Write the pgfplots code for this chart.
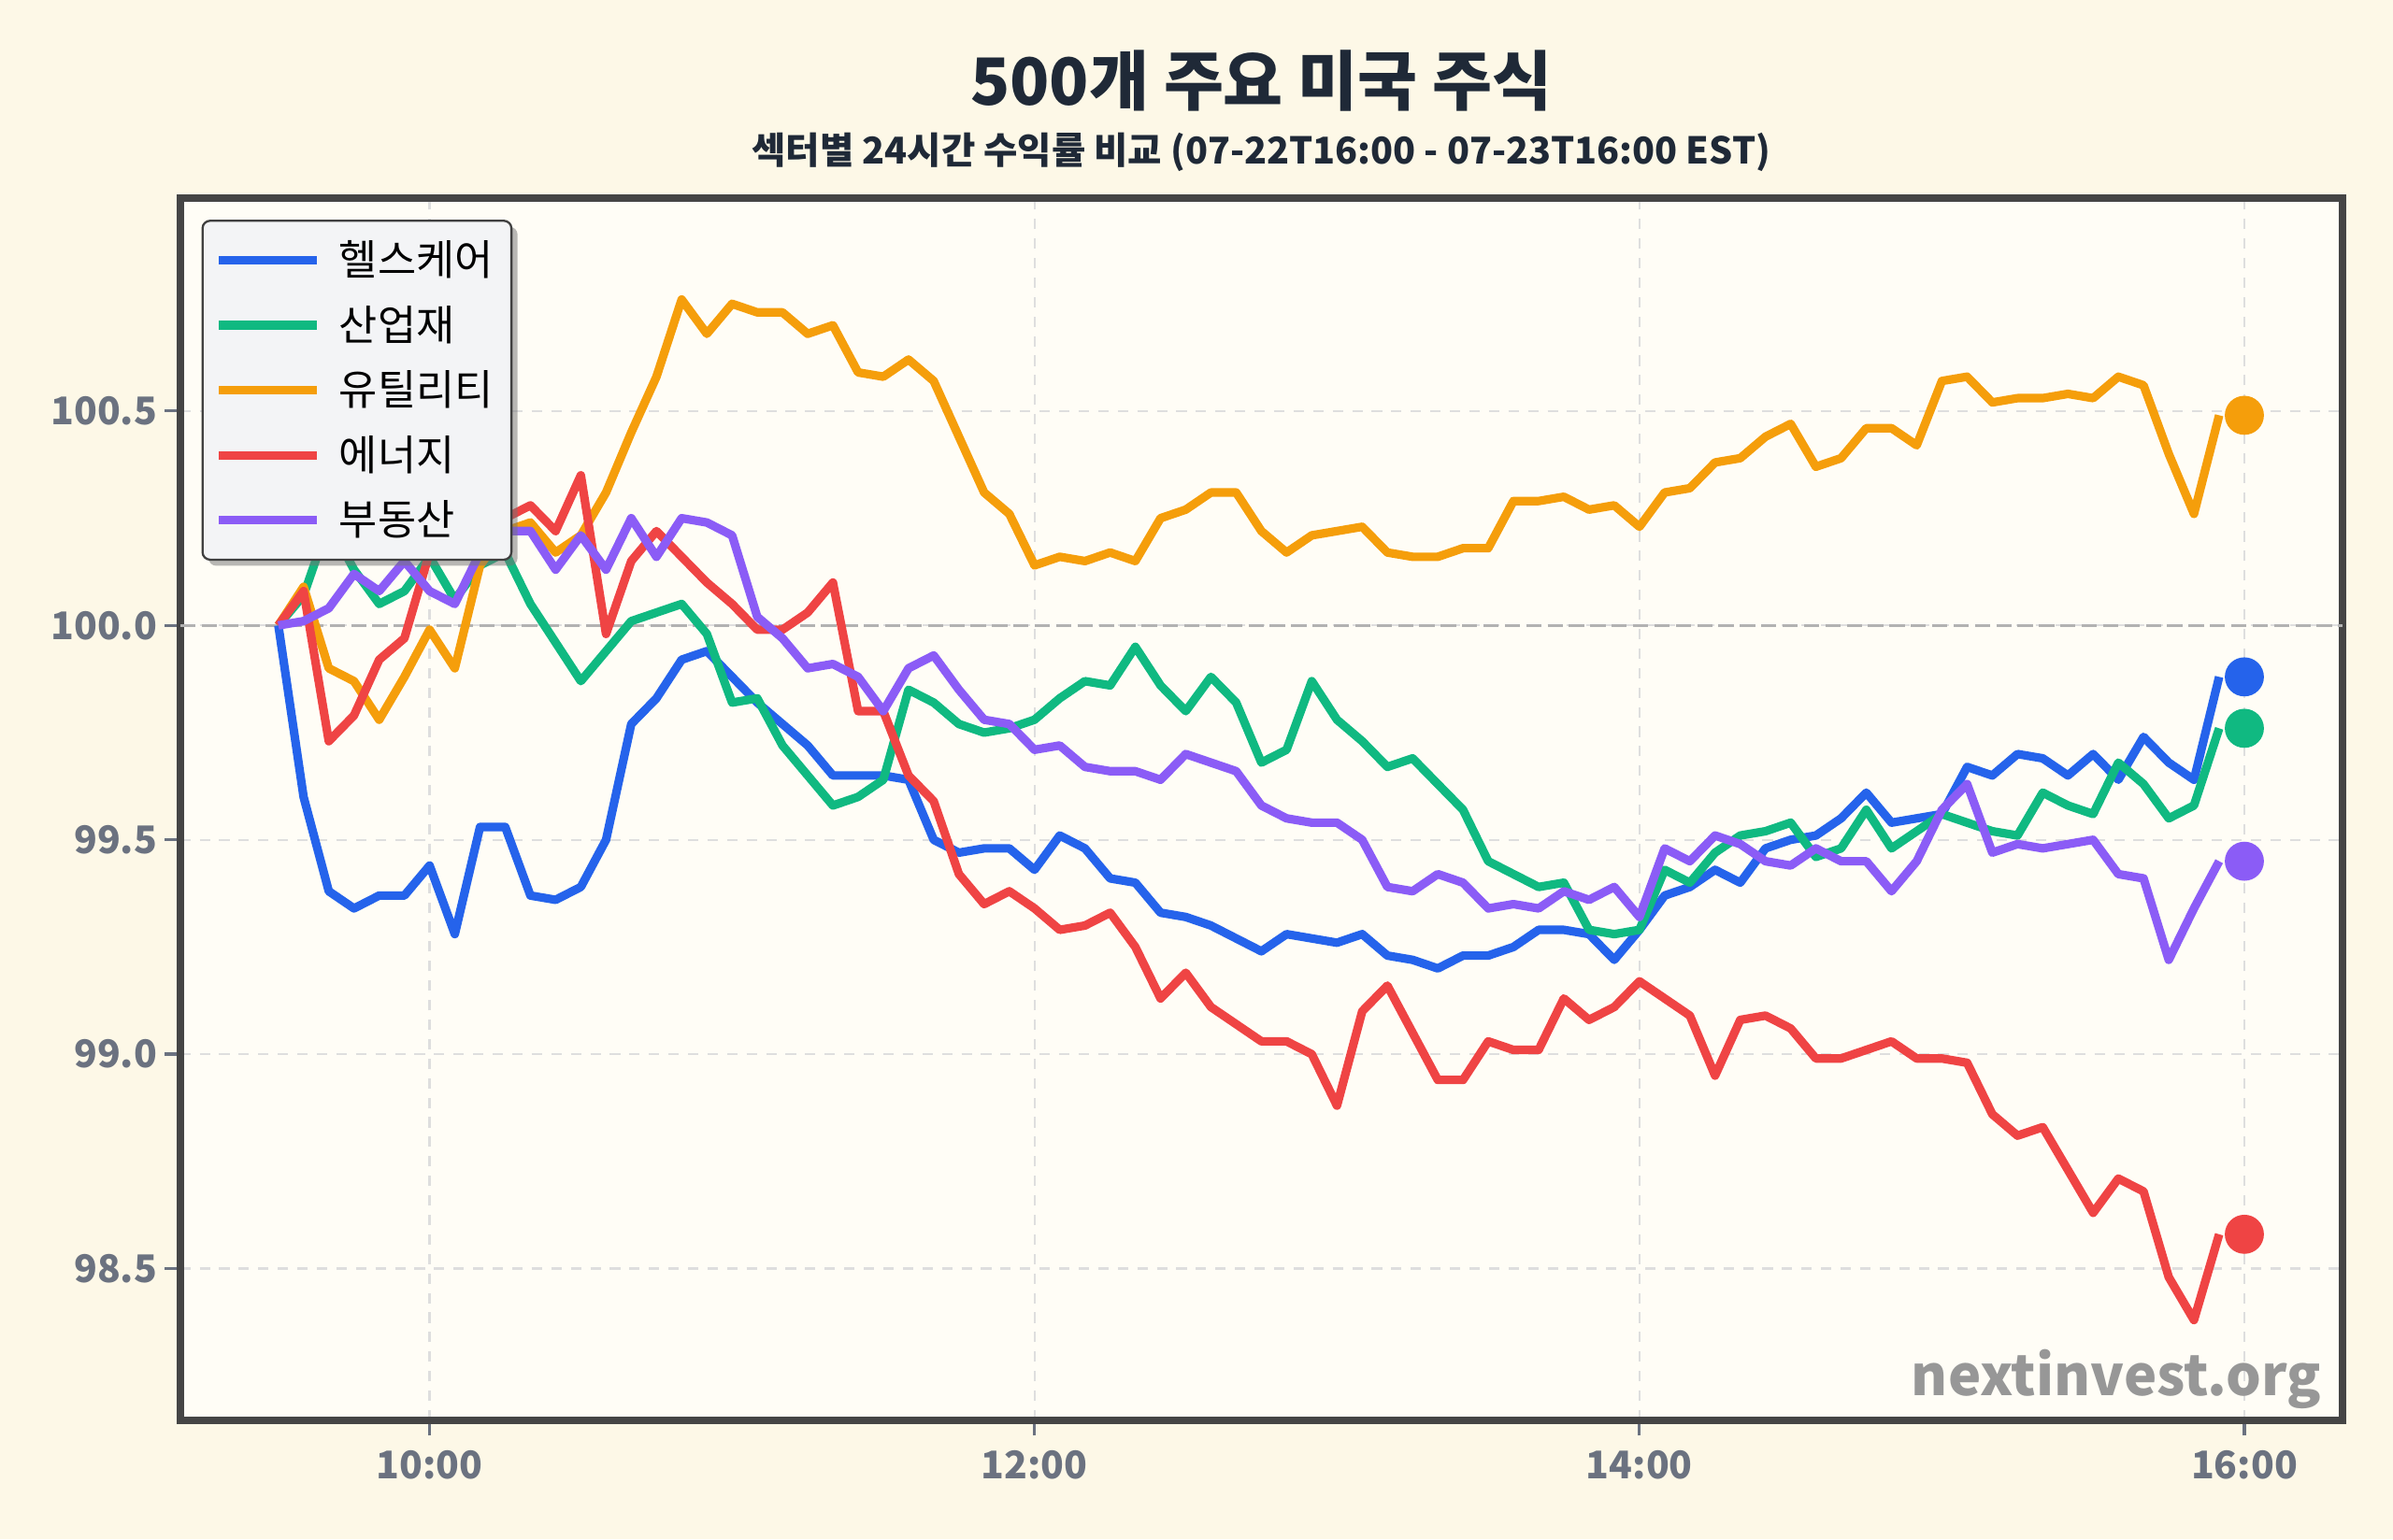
\documentclass[border=0pt]{standalone}
\usepackage{fontspec}
\setmainfont{Noto Sans CJK KR}
\usepackage{pgfplots}
\pgfplotsset{compat=1.18}
\usepackage{pgfplotstable}
\usetikzlibrary{shadows}

\makeatletter
% legend samples should not inherit the box's shadow
\tikzset{no preactions/.code={\let\tikz@preactions\pgfutil@empty}}
\makeatother

\definecolor{pagebg}{HTML}{FDF8E7}
\definecolor{axbg}{HTML}{FFFDF6}
\definecolor{framec}{HTML}{454545}
\definecolor{tickgray}{HTML}{6B7280}
\definecolor{titlec}{HTML}{1F2937}
\definecolor{legbg}{HTML}{F3F4F6}
\definecolor{markc}{HTML}{979797}
\definecolor{cblue}{HTML}{2563EB}
\definecolor{cgreen}{HTML}{10B981}
\definecolor{corange}{HTML}{F59E0B}
\definecolor{cred}{HTML}{EF4444}
\definecolor{cpurple}{HTML}{8B5CF6}

% t = minutes after midnight; values are indexed to 100 at 09:30
\pgfplotstableread{
t   hc     ind     util    en      re
570 100.00 100.00  100.00  100.00  100.00
575 99.60  100.07  100.09  100.08  100.01
580 99.38  100.24  99.90   99.73   100.04
585 99.34  100.13  99.87   99.79   100.12
590 99.37  100.05  99.78   99.92   100.08
595 99.37  100.08  99.88   99.97   100.15
600 99.44  100.16  99.99   100.17  100.08
605 99.28  100.06  99.90   100.21  100.05
610 99.53  100.14  100.14  100.23  100.17
615 99.53  100.17  100.22  100.25  100.22
620 99.37  100.05  100.24  100.28  100.22
625 99.36  99.96   100.17  100.22  100.13
630 99.39  99.87   100.21  100.35  100.21
635 99.50  99.94   100.31  99.98   100.13
640 99.77  100.01  100.45  100.15  100.25
645 99.83  100.03  100.58  100.22  100.16
650 99.92  100.05  100.76  100.16  100.25
655 99.94  99.98   100.68  100.10  100.24
660 99.88  99.82   100.75  100.05  100.21
665 99.82  99.83   100.73  99.99   100.02
670 99.77  99.72   100.73  99.99   99.97
675 99.72  99.65   100.68  100.03  99.90
680 99.65  99.58   100.70  100.10  99.91
685 99.65  99.60   100.59  99.80   99.88
690 99.65  99.64   100.58  99.80   99.80
695 99.64  99.85   100.62  99.65   99.90
700 99.50  99.82   100.57  99.59   99.93
705 99.47  99.77   100.44  99.42   99.85
710 99.48  99.75   100.31  99.35   99.78
715 99.48  99.76   100.26  99.38   99.77
720 99.43  99.78   100.14  99.34   99.71
725 99.51  99.83   100.16  99.29   99.72
730 99.48  99.87   100.15  99.30   99.67
735 99.41  99.86   100.17  99.33   99.66
740 99.40  99.95   100.15  99.25   99.66
745 99.33  99.86   100.25  99.13   99.64
750 99.32  99.80   100.27  99.19   99.70
755 99.30  99.88   100.31  99.11   99.68
760 99.27  99.82   100.31  99.07   99.66
765 99.24  99.68   100.22  99.03   99.58
770 99.28  99.71   100.17  99.03   99.55
775 99.27  99.87   100.21  99.00   99.54
780 99.26  99.78   100.22  98.88   99.54
785 99.28  99.73   100.23  99.10   99.50
790 99.23  99.67   100.17  99.16   99.39
795 99.22  99.69   100.16  99.05   99.38
800 99.20  99.63   100.16  98.94   99.42
805 99.23  99.57   100.18  98.94   99.40
810 99.23  99.45   100.18  99.03   99.34
815 99.25  99.42   100.29  99.01   99.35
820 99.29  99.39   100.29  99.01   99.34
825 99.29  99.40   100.30  99.13   99.38
830 99.28  99.29   100.27  99.08   99.36
835 99.22  99.28   100.28  99.11   99.39
840 99.29  99.29   100.23  99.17   99.32
845 99.37  99.43   100.31  99.13   99.48
850 99.39  99.40   100.32  99.09   99.45
855 99.43  99.47   100.38  98.95   99.51
860 99.40  99.51   100.39  99.08   99.49
865 99.48  99.52   100.44  99.09   99.45
870 99.50  99.54   100.47  99.06   99.44
875 99.51  99.46   100.37  98.99   99.48
880 99.55  99.48   100.39  98.99   99.45
885 99.61  99.57   100.46  99.01   99.45
890 99.54  99.48   100.46  99.03   99.38
895 99.55  99.52   100.42  98.99   99.45
900 99.56  99.56   100.57  98.99   99.57
905 99.67  99.54   100.58  98.98   99.63
910 99.65  99.52   100.52  98.86   99.47
915 99.70  99.51   100.53  98.81   99.49
920 99.69  99.61   100.53  98.83   99.48
925 99.65  99.58   100.54  98.73   99.49
930 99.70  99.56   100.53  98.63   99.50
935 99.64  99.68   100.58  98.71   99.42
940 99.74  99.63   100.56  98.68   99.41
945 99.68  99.55   100.40  98.48   99.22
950 99.64  99.58   100.26  98.38   99.34
955 99.88  99.76   100.49  98.58   99.45
}\sector

\begin{document}
\begin{tikzpicture}
% page background
\fill[pagebg] (-59bp,-39bp) rectangle (725bp,465.5bp);

\begin{axis}[
  at={(0,0)}, anchor=south west,
  scale only axis, width=708.5bp, height=400.5bp,
  xmin=550.5, xmax=979.5, ymin=98.146, ymax=100.996,
  axis background/.style={fill=axbg},
  axis line style={framec, line width=2.4bp},
  tick pos=left, tick align=outside,
  major tick length=5bp,
  tick style={tickgray, line width=1bp},
  xtick={600,720,840,960},
  xticklabels={10:00,12:00,14:00,16:00},
  ytick={98.5,99,99.5,100,100.5},
  /pgf/number format/assume math mode=true,
  yticklabel style={/pgf/number format/.cd, fixed, fixed zerofill, precision=1},
  ticklabel style={font=\bfseries\fontsize{12.5bp}{15bp}\selectfont, text=tickgray},
  xticklabel shift=1.5bp,
  yticklabel shift=-1bp,
  grid=major,
  major grid style={dash pattern=on 3.4bp off 3bp, color=black!13, line width=0.7bp},
  legend cell align=left,
  legend image code/.code={\draw[no preactions, #1, line width=2.8bp] (0bp,0bp) -- (32bp,0bp);},
  legend style={
    at={(0,1)}, anchor=north west, xshift=7bp, yshift=-7bp,
    fill=legbg, draw=black!75, line width=0.7bp, rounded corners=2.5bp,
    drop shadow={shadow xshift=2bp, shadow yshift=-2bp, fill=black!55},
    font=\fontsize{13.7bp}{16bp}\selectfont,
    inner xsep=4bp, inner ysep=4.5bp, row sep=4.5bp, column sep=4bp,
  },
]
% reference level
\addplot[forget plot, color=black!30, line width=1bp, dash pattern=on 5bp off 2bp]
  coordinates {(550.5,100) (979.5,100)};

\addplot[cblue, line width=2.8bp, line join=round] table[x=t, y=hc] {\sector};
\addlegendentry{헬스케어}
\addplot[cgreen, line width=2.8bp, line join=round] table[x=t, y=ind] {\sector};
\addlegendentry{산업재}
\addplot[corange, line width=2.8bp, line join=round] table[x=t, y=util] {\sector};
\addlegendentry{유틸리티}
\addplot[cred, line width=2.8bp, line join=round] table[x=t, y=en] {\sector};
\addlegendentry{에너지}
\addplot[cpurple, line width=2.8bp, line join=round] table[x=t, y=re] {\sector};
\addlegendentry{부동산}

% closing values at 16:00
\addplot[forget plot, only marks, mark=*, mark size=6.2bp, mark options={draw=cblue, fill=cblue}] coordinates {(960,99.88)};
\addplot[forget plot, only marks, mark=*, mark size=6.2bp, mark options={draw=cgreen, fill=cgreen}] coordinates {(960,99.76)};
\addplot[forget plot, only marks, mark=*, mark size=6.2bp, mark options={draw=corange, fill=corange}] coordinates {(960,100.49)};
\addplot[forget plot, only marks, mark=*, mark size=6.2bp, mark options={draw=cred, fill=cred}] coordinates {(960,98.58)};
\addplot[forget plot, only marks, mark=*, mark size=6.2bp, mark options={draw=cpurple, fill=cpurple}] coordinates {(960,99.45)};
\end{axis}

\node[anchor=base east, font=\bfseries\fontsize{18.2bp}{21bp}\selectfont, text=markc] at (705bp,8bp) {nextinvest.org};

\node[font=\bfseries\fontsize{21.3bp}{25bp}\selectfont, text=titlec] at (354.25bp,439bp) {500개 주요 미국 주식};
\node[font=\bfseries\fontsize{12.1bp}{15bp}\selectfont, text=titlec] at (354.25bp,415.5bp) {섹터별 24시간 수익률 비교 (07-22T16:00 - 07-23T16:00 EST)};
\end{tikzpicture}
\end{document}
